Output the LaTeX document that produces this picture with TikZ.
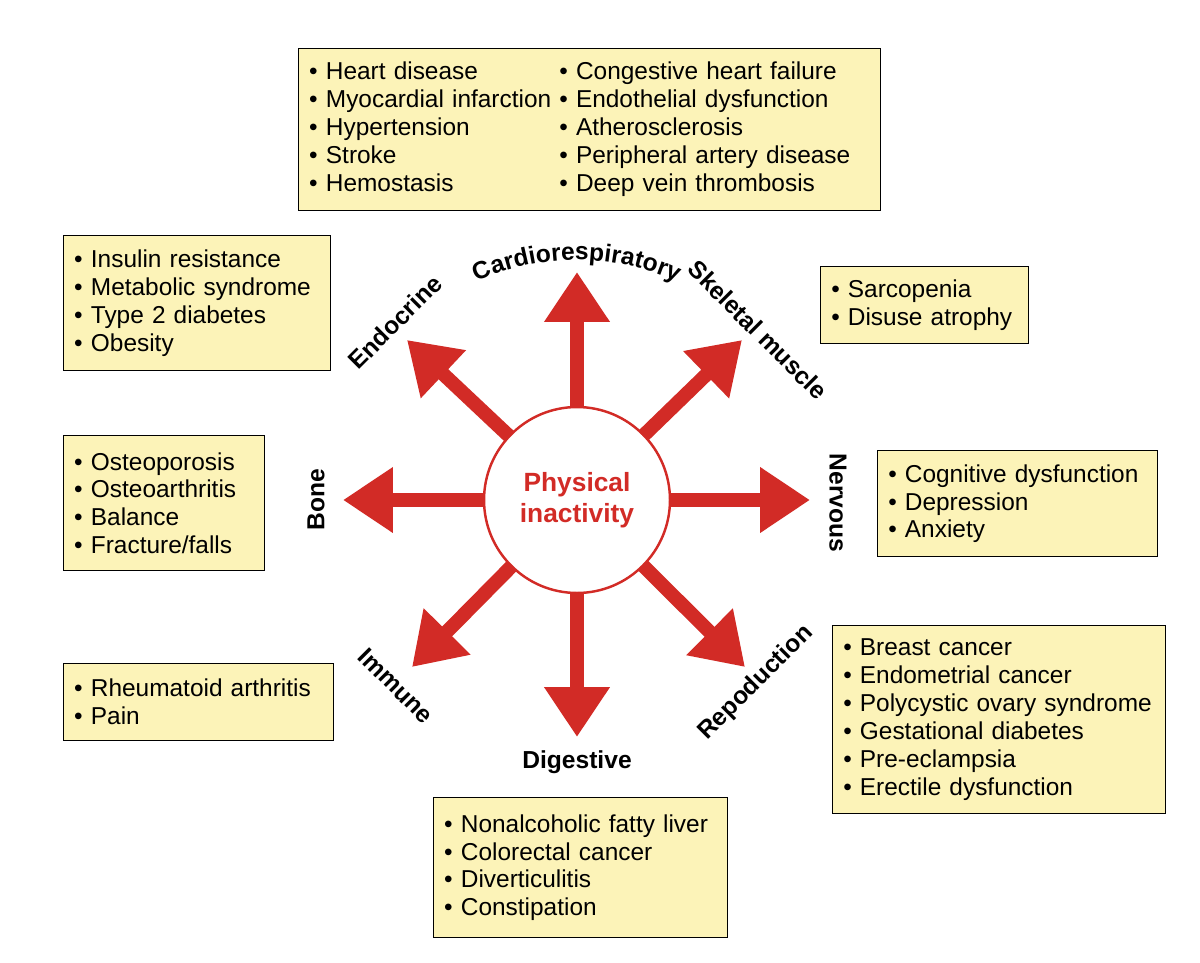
\documentclass[tikz,border=0pt]{standalone}
\usepackage{fontspec}
\setmainfont{Liberation Sans}
\usetikzlibrary{arrows.meta,decorations.text}
\definecolor{boxfill}{HTML}{FCF3B8}
\definecolor{inred}{HTML}{D22B26}
\tikzset{ills/.style 2 args={draw=black,fill=boxfill,line width=0.8pt,align=left,anchor=north west,
  inner xsep=6pt,inner ysep=5pt,text width=#1*0.02cm-12pt,minimum height=#2*0.02cm,
  font=\fontsize{13.9}{15.9}\selectfont}}
\tikzset{sys/.style={font=\fontsize{14}{16}\selectfont\bfseries}}
\tikzset{bigarrow/.style={draw=inred,line width=0.28cm,-{Triangle[width=1.25cm,length=1cm]},shorten <=-1pt}}
\newcommand{\bl}{\textbullet\ }
\begin{document}
\begin{tikzpicture}[x=0.02cm,y=0.02cm]
\useasboundingbox (0,0) rectangle (1200,-963);
% centre
\node[circle,draw=inred,line width=1.4pt,minimum size=3.72cm,align=center,text=inred,
  font=\fontsize{15}{18}\selectfont\bfseries](pi) at (577,-500){Physical\\inactivity};
\foreach \name/\x/\y in {tN/577/-272,tNE/742/-340,tE/810/-500,tSE/745/-667,tS/577/-737,tSW/412/-667,tW/343/-500,tNW/407/-340}
  \coordinate (\name) at (\x,\y);
\foreach \t in {tN,tNE,tE,tSE,tS,tSW,tW,tNW}
  \draw[bigarrow](pi) -- (\t);
% systems
\path[decorate,decoration={text along path,text align=center,
  text={|\fontsize{14}{16}\selectfont\bfseries|Cardiorespiratory}}]
  (577,-500) ++(124:240) arc (124:56:240);
\node[sys,rotate=45](endo) at (395,-322){Endocrine};
\node[sys,rotate=-45](skel) at (758,-330){Skeletal muscle};
\node[sys,rotate=-90](nerv) at (838,-503){Nervous};
\node[sys,rotate=90](bone) at (316,-500){Bone};
\node[sys,rotate=-45](immu) at (396,-686){Immune};
\node[sys,rotate=45](repr) at (756,-683){Repoduction};
\node[sys](dige) at (577,-762){Digestive};
% boxes
\node[ills={582}{162}](cardio) at (298,-48){%
\begin{tabular}{@{}l@{\ }l@{}}
\bl Heart disease & \bl Congestive heart failure\\
\bl Myocardial infarction & \bl Endothelial dysfunction\\
\bl Hypertension & \bl Atherosclerosis\\
\bl Stroke & \bl Peripheral artery disease\\
\bl Hemostasis & \bl Deep vein thrombosis
\end{tabular}};
\node[ills={267}{135}](endob) at (63,-235){\bl Insulin resistance\\\bl Metabolic syndrome\\\bl Type 2 diabetes\\\bl Obesity};
\node[ills={208}{77}](skelb) at (820,-266){\bl Sarcopenia\\\bl Disuse atrophy};
\node[ills={201}{135}](boneb) at (63,-435){\bl Osteoporosis\\\bl Osteoarthritis\\\bl Balance\\\bl Fracture/falls};
\node[ills={280}{106}](nervb) at (877,-450){\bl Cognitive dysfunction\\\bl Depression\\\bl Anxiety};
\node[ills={270}{77}](immub) at (63,-663){\bl Rheumatoid arthritis\\\bl Pain};
\node[ills={333}{188}](reprb) at (832,-625){\bl Breast cancer\\\bl Endometrial cancer\\\bl Polycystic ovary syndrome\\\bl Gestational diabetes\\\bl Pre-eclampsia\\\bl Erectile dysfunction};
\node[ills={294}{140}](digeb) at (433,-797){\bl Nonalcoholic fatty liver\\\bl Colorectal cancer\\\bl Diverticulitis\\\bl Constipation};
\end{tikzpicture}
\end{document}
